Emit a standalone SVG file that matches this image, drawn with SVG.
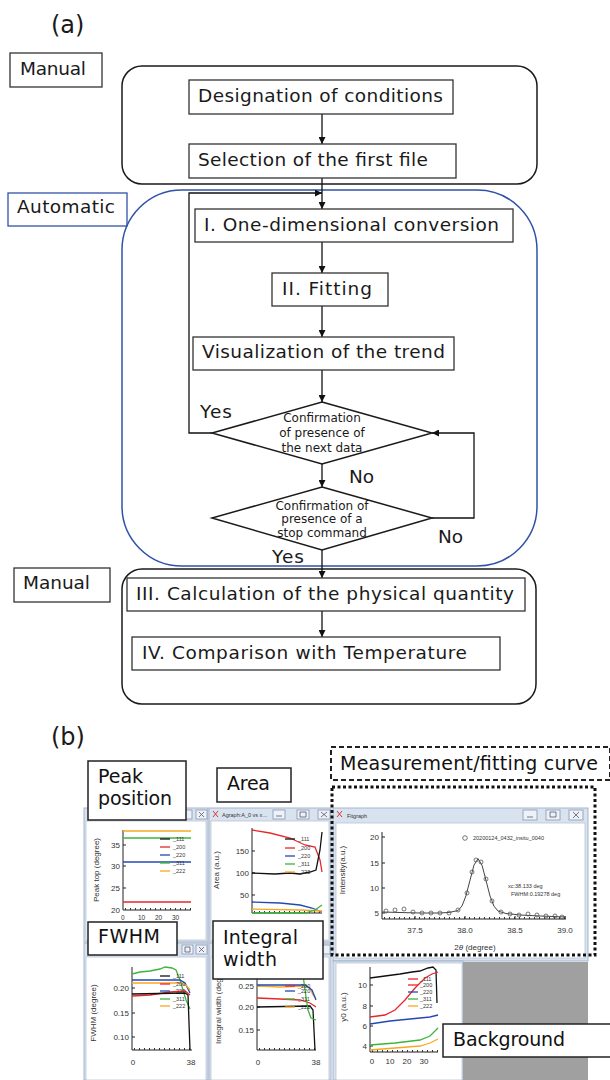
<svg xmlns="http://www.w3.org/2000/svg" width="610" height="1080" viewBox="0 0 610 1080">
<defs>
<marker id="ah" viewBox="0 0 10 10" refX="10" refY="5" markerWidth="7" markerHeight="7" orient="auto" markerUnits="userSpaceOnUse"><path d="M0,0 L10,5 L0,10 z" fill="#111"/></marker>
<style>
.box{fill:#fff;stroke:#333;stroke-width:1.3}
.cont{fill:none;stroke:#1a1a1a;stroke-width:1.5}
.bl{stroke:#2f52a8}
.t{font-family:"DejaVu Sans",sans-serif;font-size:18.5px;fill:#1a1a1a}
.d{font-family:"DejaVu Sans",sans-serif;font-size:12px;fill:#1a1a1a;text-anchor:middle}
.c{fill:none;stroke:#111;stroke-width:1.3}
.frm{fill:#d9e3f0;stroke:#a3b5cc;stroke-width:1}
.wh{fill:#fff;stroke:#b8c6d8;stroke-width:0.8}
.btn{fill:#eef2f8;stroke:#8597b0;stroke-width:0.8}
.ax{fill:none;stroke:#222;stroke-width:1}
.s{font-family:"Liberation Sans",Arial,sans-serif;font-size:8px;fill:#333}
.sr{font-family:"Liberation Sans",Arial,sans-serif;font-size:8px;fill:#333;text-anchor:end}
.sm{font-family:"Liberation Sans",Arial,sans-serif;font-size:8px;fill:#333;text-anchor:middle}
.tn{font-family:"Liberation Sans",Arial,sans-serif;font-size:5.5px;fill:#333}
.k{fill:none;stroke:#111;stroke-width:1.3}
.r{fill:none;stroke:#e8262a;stroke-width:1.3}
.b{fill:none;stroke:#2348b4;stroke-width:1.3}
.g{fill:none;stroke:#3cb43c;stroke-width:1.3}
.o{fill:none;stroke:#f7a823;stroke-width:1.3}
.mtk{fill:none;stroke:#333;stroke-width:2;stroke-dasharray:1 4}
.lab{fill:#fff;stroke:#222;stroke-width:1.5}
.bt{font-family:"DejaVu Sans",sans-serif;font-size:19px;fill:#111}
</style>
</defs>

<!-- ===== Part (a) ===== -->
<text class="t" x="51" y="33" style="font-size:24px">(a)</text>

<g id="manual1"><rect class="box" x="10" y="53" width="92" height="34"/><text class="t" x="20" y="75" textLength="66">Manual</text></g>
<g id="automatic"><rect class="box bl" x="8" y="193" width="119" height="33"/><text class="t" x="17" y="213" textLength="98">Automatic</text></g>
<g id="manual2"><rect class="box" x="14" y="568" width="96" height="34"/><text class="t" x="23" y="589" textLength="67">Manual</text></g>

<g id="container-manual1"><rect class="cont" x="122" y="66" width="415" height="118" rx="20"/></g>
<g id="container-auto"><rect class="cont bl" x="122" y="190" width="415" height="376" rx="60"/></g>
<g id="container-manual2"><rect class="cont" x="122" y="569" width="414" height="135" rx="20"/></g>

<g id="connectors">
<path class="c" d="M322,114 V144" marker-end="url(#ah)"/>
<path class="c" d="M322,178 V209" marker-end="url(#ah)"/>
<path class="c" d="M212,433 H189 V193 H322" marker-end="url(#ah)"/>
<path class="c" d="M322,242 V273" marker-end="url(#ah)"/>
<path class="c" d="M322,306 V337" marker-end="url(#ah)"/>
<path class="c" d="M322,370 V402" marker-end="url(#ah)"/>
<path class="c" d="M322,464 V487" marker-end="url(#ah)"/>
<path class="c" d="M432,518 H474 V433 H432" marker-end="url(#ah)"/>
<path class="c" d="M322,550 V578" marker-end="url(#ah)"/>
<path class="c" d="M322,611 V637" marker-end="url(#ah)"/>
<text class="t" x="200" y="418" textLength="32">Yes</text>
<text class="t" x="349" y="483" textLength="25">No</text>
<text class="t" x="438" y="543" textLength="25">No</text>
<text class="t" x="272" y="563" textLength="32">Yes</text>
</g>

<g id="n-designation"><rect class="box" x="189" y="80" width="264" height="34"/><text class="t" x="198" y="102" textLength="245">Designation of conditions</text></g>
<g id="n-selection"><rect class="box" x="189" y="144" width="267" height="34"/><text class="t" x="198" y="166" textLength="230">Selection of the first file</text></g>
<g id="n-onedim"><rect class="box" x="195" y="209" width="318" height="33"/><text class="t" x="204" y="231" textLength="295">I. One-dimensional conversion</text></g>
<g id="n-fitting"><rect class="box" x="272" y="273" width="116" height="33"/><text class="t" x="282" y="295" textLength="90">II. Fitting</text></g>
<g id="n-visual"><rect class="box" x="193" y="337" width="261" height="33"/><text class="t" x="202" y="358" textLength="243">Visualization of the trend</text></g>
<g id="n-next"><polygon class="box" points="322,402 432,433 322,464 212,433" style="stroke:#1a1a1a;stroke-width:1.5"/>
<text class="d" x="322" y="422">Confirmation</text><text class="d" x="322" y="437">of presence of</text><text class="d" x="322" y="452">the next data</text></g>
<g id="n-stop"><polygon class="box" points="322,487 432,518 322,550 212,518" style="stroke:#1a1a1a;stroke-width:1.5"/>
<text class="d" x="322" y="510">Confirmation of</text><text class="d" x="322" y="523">presence of a</text><text class="d" x="322" y="537">stop command</text></g>
<g id="n-calc"><rect class="box" x="127" y="578" width="398" height="33"/><text class="t" x="136" y="600" textLength="378">III. Calculation of the physical quantity</text></g>
<g id="n-compare"><rect class="box" x="132" y="637" width="368" height="33"/><text class="t" x="142" y="659" textLength="325">IV. Comparison with Temperature</text></g>

<!-- ===== Part (b) ===== -->
<text class="t" x="51" y="745" style="font-size:24px">(b)</text>

<!-- Window 1: peak -->
<g id="win-peak">
<rect class="frm" x="84" y="808" width="124" height="134"/>
<rect class="wh" x="86" y="821" width="120" height="119"/>
<rect class="btn" x="181" y="810" width="11" height="9"/><rect class="btn" x="196" y="810" width="11" height="9"/>
<path d="M199,812 l5,5 M204,812 l-5,5" stroke="#556" stroke-width="0.8"/>
<path class="ax" d="M123,830 V910 H191"/>
<path class="mtk" d="M125,909 H191"/>
<path class="ax" d="M123,845 h3 M123,866 h3 M123,888 h3"/>
<text class="sr" x="120" y="848">35</text><text class="sr" x="120" y="869">30</text><text class="sr" x="120" y="891">25</text><text class="sr" x="120" y="913">20</text>
<text class="sm" x="0" y="0" transform="translate(99,870) rotate(-90)">Peak top (degree)</text>
<text class="s" x="121" y="920" style="font-size:6.5px">0</text><text class="s" x="138" y="920" style="font-size:6.5px">10</text><text class="s" x="155" y="920" style="font-size:6.5px">20</text><text class="s" x="172" y="920" style="font-size:6.5px">30</text>
<path class="o" d="M123,831 H191"/><path class="g" d="M123,838 H191"/><path class="b" d="M123,862 H191"/><path class="r" d="M123,902 H191"/>
<path class="k" d="M160,839 h10"/><path class="r" d="M160,847 h10"/><path class="b" d="M160,855 h10"/><path class="g" d="M160,863 h10"/><path class="o" d="M160,871 h10"/>
<text class="tn" x="173" y="841">_111</text><text class="tn" x="173" y="849">_200</text><text class="tn" x="173" y="857">_220</text><text class="tn" x="173" y="865">_311</text><text class="tn" x="173" y="873">_222</text>
</g>

<!-- Window 2: area -->
<g id="win-area">
<rect class="frm" x="209" y="808" width="122" height="134"/>
<rect class="wh" x="211" y="821" width="118" height="119"/>
<path d="M213,811 l5,6 M218,811 l-5,6" stroke="#d33" stroke-width="1"/>
<text class="tn" x="222" y="817">Agraph:A_0 vs x...</text>
<rect class="btn" x="273" y="810" width="12" height="9"/><rect class="btn" x="297" y="810" width="12" height="9"/><rect class="btn" x="318" y="810" width="12" height="9"/>
<path d="M276,816 h6 M300,812 h6 v5 h-6 z M321,812 l6,5 M327,812 l-6,5" stroke="#556" stroke-width="0.8" fill="none"/>
<path class="ax" d="M252,828 V913 H322"/>
<path class="mtk" d="M254,912 H322"/>
<path class="ax" d="M252,851 h3 M252,873 h3 M252,895 h3"/>
<text class="sr" x="249" y="854">150</text><text class="sr" x="249" y="876">100</text><text class="sr" x="249" y="898">50</text>
<text class="sm" x="0" y="0" transform="translate(219,870) rotate(-90)">Area (a.u.)</text>
<path class="r" d="M252,830 L270,833 L290,838 L305,845 L315,847 L320,860 L322,872"/>
<path class="k" d="M252,873 L275,874 L290,873 L300,874 L310,872 L316,870 L320,850 L322,832"/>
<path class="b" d="M252,902 L280,903 L300,905 L312,908 L322,912"/>
<path class="o" d="M252,909 L300,910 L322,911"/>
<path class="g" d="M252,913 L305,913 L315,910 L322,905"/>
<path class="k" d="M285,839 h10"/><path class="r" d="M285,848 h10"/><path class="b" d="M285,856 h10"/><path class="g" d="M285,864 h10"/><path class="o" d="M285,872 h10"/>
<text class="tn" x="298" y="841">_111</text><text class="tn" x="298" y="850">_200</text><text class="tn" x="298" y="858">_220</text><text class="tn" x="298" y="866">_311</text><text class="tn" x="298" y="874">_222</text>
</g>

<!-- Window 3: fitgraph -->
<g id="win-fit">
<rect class="frm" x="333" y="808" width="255" height="153"/>
<rect class="wh" x="336" y="823" width="249" height="135"/>
<path d="M337,811 l5,6 M342,811 l-5,6" stroke="#d33" stroke-width="1"/>
<text class="tn" x="347" y="818">Fitgraph</text>
<rect class="btn" x="523" y="810" width="14" height="10"/><rect class="btn" x="546" y="810" width="14" height="10"/><rect class="btn" x="569" y="810" width="14" height="10"/>
<path d="M527,817 h6 M550,812 h6 v5 h-6 z M573,812 l6,6 M579,812 l-6,6" stroke="#556" stroke-width="0.8" fill="none"/>
<path class="ax" d="M382,832 V919 H566"/>
<path class="mtk" d="M384,918 H566"/>
<path class="ax" d="M382,837 h3 M382,863 h3 M382,888 h3 M382,913 h3 M415,919 v-3 M465,919 v-3 M515,919 v-3 M565,919 v-3"/>
<text class="sr" x="379" y="840">20</text><text class="sr" x="379" y="866">15</text><text class="sr" x="379" y="891">10</text><text class="sr" x="379" y="916">5</text>
<text class="sm" x="415" y="933">37.5</text><text class="sm" x="465" y="933">38.0</text><text class="sm" x="515" y="933">38.5</text><text class="sm" x="565" y="933">39.0</text>
<text class="sm" x="475" y="950">2<tspan font-style="italic">θ</tspan> (degree)</text>
<text class="sm" x="0" y="0" transform="translate(345,870) rotate(-90)">Intensity(a.u.)</text>
<path fill="none" stroke="#444" stroke-width="1" d="M382,912 L400,912.5 L420,913 L440,913 L450,912.3 L454,911.4 L458,910.6 L462,905.9 L466,895.7 L470,880.2 L474,865 L478,858.6 L482,865.2 L486,880.4 L490,896 L494,906.2 L498,911 L502,912.3 L506,913.5 L520,915 L540,916 L566,917"/>
<g fill="none" stroke="#555" stroke-width="0.8">
<circle cx="386" cy="911" r="2"/><circle cx="395" cy="910" r="2"/><circle cx="404" cy="909" r="2"/><circle cx="413" cy="912" r="2"/><circle cx="422" cy="913" r="2"/><circle cx="431" cy="913" r="2"/><circle cx="440" cy="913" r="2"/><circle cx="449" cy="913" r="2"/><circle cx="458" cy="910" r="2"/><circle cx="467" cy="893" r="2"/><circle cx="472" cy="872" r="2"/><circle cx="476" cy="860" r="2"/><circle cx="481" cy="862" r="2"/><circle cx="486" cy="879" r="2"/><circle cx="492" cy="901" r="2"/><circle cx="501" cy="912" r="2"/><circle cx="510" cy="914" r="2"/><circle cx="519" cy="915" r="2"/><circle cx="528" cy="914" r="2"/><circle cx="537" cy="915" r="2"/><circle cx="546" cy="916" r="2"/><circle cx="555" cy="916" r="2"/><circle cx="562" cy="917" r="2"/>
<circle cx="465" cy="838" r="2.3"/></g>
<text class="tn" x="473" y="840">20200124_0432_insitu_0040</text>
<text class="tn" x="508" y="888">xc:38.133 deg</text>
<text class="tn" x="511" y="896">FWHM:0.19278 deg</text>
</g>

<!-- Window 4: FWHM -->
<g id="win-fwhm">
<rect class="frm" x="84" y="943" width="124" height="137"/>
<rect class="wh" x="86" y="957" width="120" height="123"/>
<rect class="btn" x="182" y="945" width="11" height="9"/><rect class="btn" x="196" y="945" width="11" height="9"/>
<path d="M185,947 h5 v5 h-5 z M199,947 l5,5 M204,947 l-5,5" stroke="#556" stroke-width="0.8" fill="none"/>
<path class="ax" d="M132,967 V1050 H192"/>
<path class="mtk" d="M134,1049 H192"/>
<path class="ax" d="M132,988 h3 M132,1013 h3 M132,1037 h3"/>
<text class="sr" x="129" y="991">0.20</text><text class="sr" x="129" y="1016">0.15</text><text class="sr" x="129" y="1040">0.10</text>
<text class="sm" x="133" y="1065">0</text><text class="sm" x="191" y="1065">38</text>
<text class="sm" x="0" y="0" transform="translate(96,1013) rotate(-90)">FWHM (degree)</text>
<path class="g" d="M132,974 L140,972 L150,971 L160,969 L165,967 L172,968 L176,970 L180,980 L183,990 L186,1000 L190,1009"/>
<path class="b" d="M132,980 L180,980 L185,983 L190,993"/>
<path class="o" d="M132,983 L180,983 L186,985 L190,990"/>
<path class="r" d="M132,996 L150,995 L170,992 L185,991 L190,995"/>
<path class="k" d="M132,994 L185,993 L188,995 L190,1050"/>
<path class="k" d="M160,976 h10"/><path class="r" d="M160,984 h10"/><path class="b" d="M160,991 h10"/><path class="g" d="M160,999 h10"/><path class="o" d="M160,1006 h10"/>
<text class="tn" x="173" y="978">_111</text><text class="tn" x="173" y="986">_200</text><text class="tn" x="173" y="993">_220</text><text class="tn" x="173" y="1001">_311</text><text class="tn" x="173" y="1008">_222</text>
</g>

<!-- Window 5: integral width -->
<g id="win-integral">
<rect class="frm" x="209" y="943" width="122" height="137"/>
<rect class="wh" x="211" y="957" width="118" height="123"/>
<rect class="btn" x="319" y="945" width="11" height="9"/>
<path class="ax" d="M257,967 V1050 H316"/>
<path class="mtk" d="M259,1049 H316"/>
<path class="ax" d="M257,986 h3 M257,1007 h3 M257,1030 h3"/>
<text class="sr" x="254" y="989">0.25</text><text class="sr" x="254" y="1010">0.20</text><text class="sr" x="254" y="1033">0.15</text>
<text class="sm" x="258" y="1065">0</text><text class="sm" x="316" y="1065">38</text>
<text class="s" x="0" y="0" transform="translate(221,1044) rotate(-90)">Integral width (deg</text>
<path class="o" d="M257,986 L280,987 L305,986 L310,988 L313,995 L316,998"/>
<path class="b" d="M257,985 L305,985 L312,990 L316,1000"/>
<path class="r" d="M257,998 L280,999 L300,1000 L310,1003 L316,1007"/>
<path class="k" d="M257,1007 L310,1006 L313,1010 L315,1050"/>
<path class="g" d="M302,967 L305,990 L308,1010 L311,1018 L316,1020"/>
<path class="r" d="M285,986 h10"/><path class="b" d="M285,991 h10"/><path class="g" d="M285,999 h10"/><path class="o" d="M285,1007 h10"/>
<text class="tn" x="298" y="988">_200</text><text class="tn" x="298" y="993">_220</text><text class="tn" x="298" y="1001">_311</text><text class="tn" x="298" y="1009">_222</text>
</g>

<!-- Window 6: y0 -->
<g id="win-y0">
<rect class="frm" x="333" y="961" width="130" height="119"/>
<rect class="wh" x="336" y="963" width="126" height="117"/>
<path class="ax" d="M370,967 V1052 H438"/>
<path class="mtk" d="M372,1051 H438"/>
<path class="ax" d="M370,985 h3 M370,1006 h3 M370,1026 h3 M370,1046 h3"/>
<text class="sr" x="367" y="988">10</text><text class="sr" x="367" y="1009">8</text><text class="sr" x="367" y="1029">6</text><text class="sr" x="367" y="1049">4</text>
<text class="sm" x="372" y="1064">0</text><text class="sm" x="390" y="1064">10</text><text class="sm" x="407" y="1064">20</text><text class="sm" x="424" y="1064">30</text>
<text class="sm" x="0" y="0" transform="translate(346,1007) rotate(-90)">y0 (a.u.)</text>
<path class="k" d="M370,978 L385,976 L400,974 L412,972 L420,971 L428,968 L433,967 L436,970 L437,1003"/>
<path class="r" d="M370,1017 L385,1015 L395,1010 L405,1000 L415,988 L425,978 L432,974 L438,972"/>
<path class="b" d="M370,1024 L390,1021 L410,1019 L430,1017 L438,1015"/>
<path class="g" d="M370,1045 L395,1043 L420,1040 L430,1036 L438,1028"/>
<path class="o" d="M370,1050 L395,1048 L420,1046 L430,1043 L438,1039"/>
<path class="r" d="M408,979 h10"/><path class="r" d="M408,985 h10"/><path class="b" d="M408,992 h10"/><path class="g" d="M408,999 h10"/><path class="o" d="M408,1006 h10"/>
<text class="tn" x="420" y="981">_111</text><text class="tn" x="420" y="987">_200</text><text class="tn" x="420" y="994">_220</text><text class="tn" x="420" y="1001">_311</text><text class="tn" x="420" y="1008">_222</text>
</g>
<rect x="463" y="962" width="125" height="118" fill="#a0a0a0"/>

<!-- Label boxes part (b) -->
<g id="lbl-peak"><rect class="lab" x="88" y="761" width="98" height="59"/><text class="bt" x="98" y="783">Peak</text><text class="bt" x="98" y="805" textLength="74">position</text></g>
<g id="lbl-area"><rect class="lab" x="217" y="768" width="74" height="34"/><text class="bt" x="227" y="790" textLength="43">Area</text></g>
<g id="lbl-meas"><rect x="331" y="747" width="279" height="33" fill="#fff" stroke="#222" stroke-width="2" stroke-dasharray="5 3"/><text class="bt" x="340" y="770" textLength="258">Measurement/fitting curve</text></g>
<g id="lbl-fitframe"><rect x="332" y="787" width="263" height="168" fill="none" stroke="#111" stroke-width="3" stroke-dasharray="3 2.5"/></g>
<g id="lbl-fwhm"><rect class="lab" x="88" y="922" width="89" height="33"/><text class="bt" x="98" y="943" textLength="62">FWHM</text></g>
<g id="lbl-integral"><rect class="lab" x="213" y="921" width="110" height="58"/><text class="bt" x="223" y="944" textLength="75">Integral</text><text class="bt" x="223" y="966" textLength="54">width</text></g>
<g id="lbl-bg"><rect class="lab" x="443" y="1024" width="170" height="33"/><text class="bt" x="453" y="1046" textLength="112">Background</text></g>
</svg>
